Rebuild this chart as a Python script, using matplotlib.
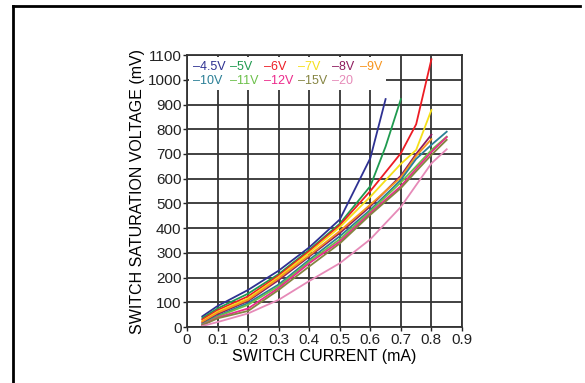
import matplotlib.pyplot as plt
from matplotlib.lines import Line2D

# Switch saturation voltage vs switch current for different input voltages
labels = ['–4.5V', '–5V', '–6V', '–7V', '–8V', '–9V',
          '–10V', '–11V', '–12V', '–15V', '–20']
colors = ['#2e3192', '#1f9a4f', '#ed1c24', '#f5e01a', '#8e1b5e', '#f7941d',
          '#2a7f96', '#6cc04a', '#ec2a8c', '#858442', '#e68ab8']

x_short = [0.05, 0.1, 0.2, 0.3, 0.4, 0.5, 0.6, 0.65]
x_5v = [0.05, 0.1, 0.2, 0.3, 0.4, 0.5, 0.6, 0.65, 0.7]
x_mid = [0.05, 0.1, 0.2, 0.3, 0.4, 0.5, 0.6, 0.7, 0.75, 0.8]
x_long = [0.05, 0.1, 0.2, 0.3, 0.4, 0.5, 0.6, 0.7, 0.75, 0.8, 0.85]

v_45 = [43, 85, 150, 228, 322, 435, 683, 922]
v_5 = [36, 75, 135, 214, 312, 418, 570, 730, 922]
v_6 = [30, 68, 124, 208, 307, 412, 550, 703, 820, 1083]
v_7 = [24, 62, 116, 202, 300, 404, 527, 660, 716, 878]
v_8 = [17, 52, 105, 190, 285, 380, 488, 612, 700, 778]
v_9 = [22, 58, 110, 197, 290, 388, 495, 605, 692, 760]
v_10 = [12, 45, 97, 172, 272, 367, 474, 595, 680, 737, 790]
v_11 = [10, 42, 90, 165, 265, 355, 468, 585, 650, 716, 770]
v_12 = [8, 38, 75, 158, 258, 346, 461, 570, 640, 708, 768]
v_15 = [7, 35, 65, 150, 245, 338, 454, 562, 630, 696, 757]
v_20 = [4, 20, 55, 110, 186, 258, 355, 486, 574, 662, 719]

xs = [x_short, x_5v, x_mid, x_mid, x_mid, x_mid,
      x_long, x_long, x_long, x_long, x_long]
ys = [v_45, v_5, v_6, v_7, v_8, v_9, v_10, v_11, v_12, v_15, v_20]

plt.rcParams['font.family'] = ['Liberation Sans', 'DejaVu Sans']

fig = plt.figure(figsize=(5.85, 3.83), dpi=100)
ax = fig.add_axes([0.3197, 0.1462, 0.470, 0.710])

handles = []
for x, y, c, lab in zip(xs, ys, colors, labels):
    h, = ax.plot(x, y, color=c, lw=1.3, label=lab)
    handles.append(h)

ax.set_xlim(0, 0.9)
ax.set_ylim(0, 1100)
ax.set_xticks([i / 10 for i in range(10)])
ax.set_xticklabels(['0', '0.1', '0.2', '0.3', '0.4', '0.5', '0.6', '0.7', '0.8', '0.9'])
ax.set_yticks(range(0, 1101, 100))
ax.grid(True, color='#333333', lw=1.3)
ax.set_axisbelow(True)
for s in ax.spines.values():
    s.set_color('#333333')
    s.set_linewidth(1.3)
ax.tick_params(length=3, width=1, pad=1, labelsize=11, colors='#222222')

ax.set_xlabel('SWITCH CURRENT (mA)', fontsize=11.5, labelpad=2)
ax.set_ylabel('SWITCH SATURATION VOLTAGE (mV)', fontsize=11.5, labelpad=2)

# legend: 2 rows, filled by columns, so interleave the two rows
row1 = list(range(6))
row2 = list(range(6, 11))
order = []
for i in range(6):
    order.append(row1[i])
    if i < len(row2):
        order.append(row2[i])
leg = ax.legend([handles[i] for i in order], [labels[i] for i in order],
                ncol=6, loc='upper left', bbox_to_anchor=(0.0, 1.0),
                borderaxespad=0.15,
                fontsize=9, handlelength=0, handletextpad=0,
                columnspacing=0.4, labelspacing=0.15, borderpad=0.3,
                frameon=True, fancybox=False, labelcolor='linecolor')
for h in leg.legend_handles:
    h.set_visible(False)
leg.get_frame().set_facecolor('white')
leg.get_frame().set_edgecolor('none')
leg.get_frame().set_alpha(1)

# outer frame (top and left only)
fig.add_artist(Line2D([13 / 585, 580 / 585], [1 - 6 / 383, 1 - 6 / 383],
                      transform=fig.transFigure, color='black', lw=2))
fig.add_artist(Line2D([13 / 585, 13 / 585], [1 - 6 / 383, 0],
                      transform=fig.transFigure, color='black', lw=2))

fig.savefig('out.png', dpi=100)
